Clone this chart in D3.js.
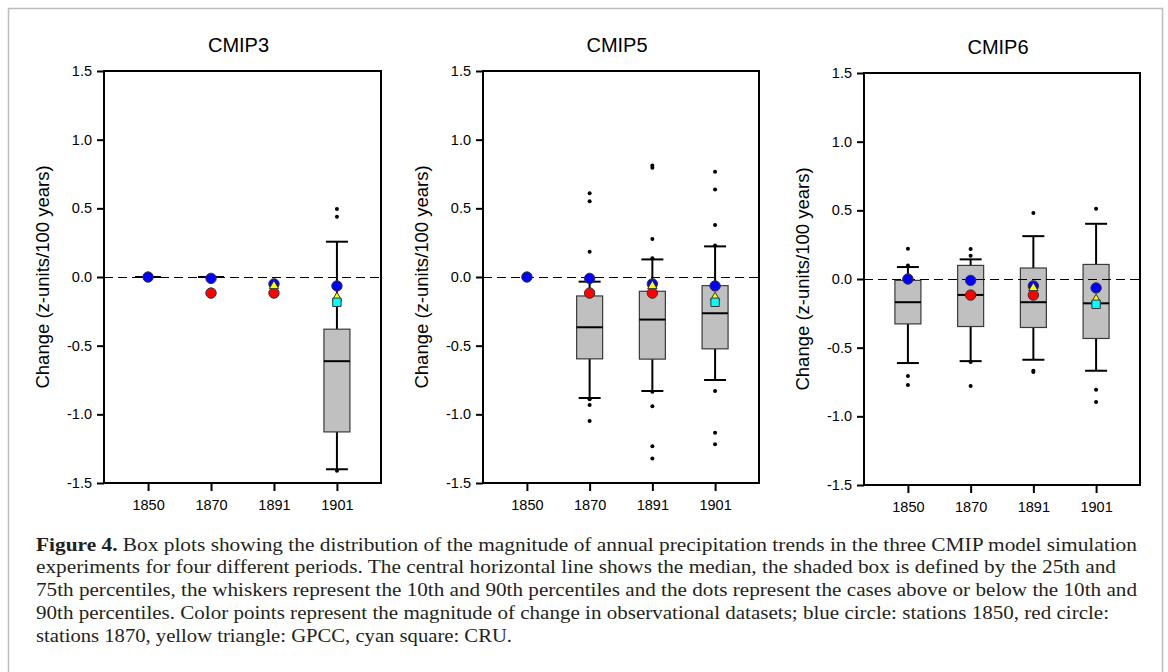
<!DOCTYPE html>
<html>
<head>
<meta charset="utf-8">
<script src="https://cdn.jsdelivr.net/npm/d3@7"></script>
<style>
  body { margin: 0; background: #fff; }
  svg { display: block; }
</style>
</head>
<body>
<svg id="chart" width="1168" height="672"></svg>
<script>
"use strict";

// categories
var years = ["1850", "1870", "1891", "1901"];
var panels = ["CMIP3", "CMIP5", "CMIP6"];
var yTicks = [-1.5, -1.0, -0.5, 0.0, 0.5, 1.0, 1.5];

// box stats per panel, one entry per year (10th, 25th, median, 75th, 90th)
var cmip3_p10 = [0, 0, 0, -1.40];
var cmip3_q1 = [0, 0, 0, -1.128];
var cmip3_med = [0, 0, null, -0.613];
var cmip3_q3 = [0, 0, 0, -0.380];
var cmip3_p90 = [0, 0, 0, 0.257];
var cmip3_out = [[], [], [], [0.496, 0.438, -1.41]];

var cmip5_p10 = [0, -0.881, -0.83, -0.75];
var cmip5_q1 = [0, -0.596, -0.598, -0.523];
var cmip5_med = [null, -0.366, -0.31, -0.264];
var cmip5_q3 = [0, -0.138, -0.104, -0.063];
var cmip5_p90 = [0, -0.034, 0.128, 0.223];
var cmip5_out = [[], [0.61, 0.552, 0.184, -0.89, -0.932, -1.048],
  [0.811, 0.796, 0.276, 0.136, -0.835, -0.942, -1.232, -1.322],
  [0.767, 0.637, 0.378, 0.23, -0.83, -1.135, -1.218]];

var cmip6_p10 = [-0.612, -0.598, -0.588, -0.668];
var cmip6_q1 = [-0.327, -0.346, -0.353, -0.433];
var cmip6_med = [-0.169, -0.116, -0.169, -0.177];
var cmip6_q3 = [-0.01, 0.099, 0.08, 0.106];
var cmip6_p90 = [0.087, 0.143, 0.312, 0.402];
var cmip6_out = [[0.22, 0.099, -0.707, -0.772], [0.218, 0.169, -0.605, -0.779],
  [0.481, -0.668, -0.677], [0.511, -0.806, -0.895]];

// observational datasets
var obs_stations1850 = [0, -0.01, -0.05, -0.065];
var obs_stations1870 = [null, -0.117, -0.117, null];
var obs_gpcc = [null, null, -0.065, -0.15];
var obs_cru = [null, null, null, -0.184];

var captionLines = [
  ["Figure 4.", " Box plots showing the distribution of the magnitude of annual precipitation trends in the three CMIP model simulation"],
  ["", "experiments for four different periods. The central horizontal line shows the median, the shaded box is defined by the 25th and"],
  ["", "75th percentiles, the whiskers represent the 10th and 90th percentiles and the dots represent the cases above or below the 10th and"],
  ["", "90th percentiles. Color points represent the magnitude of change in observational datasets; blue circle: stations 1850, red circle:"],
  ["", "stations 1870, yellow triangle: GPCC, cyan square: CRU."]
];

var BoxChart = function(){
  var that = {},
  svg,
  layout = [
    {left: 104, top: 71, width: 277, height: 412, labelX: 43},
    {left: 483, top: 71, width: 276, height: 412, labelX: 422},
    {left: 864, top: 73, width: 276, height: 412, labelX: 803}
  ],
  captionEnds = [1137, 1116, 1137, 1109, 512];

  function buildBoxes(p10, q1, med, q3, p90, out){
    return years.map(function(year, i){
      return {year: year, p10: p10[i], q1: q1[i], med: med[i], q3: q3[i], p90: p90[i], out: out[i]};
    });
  }

  function buildObs(){
    var obs = [];
    years.forEach(function(year, i){
      if(obs_stations1850[i] != null) obs.push({year: year, v: obs_stations1850[i], type: "circle", color: "#0000ff"});
      if(obs_stations1870[i] != null) obs.push({year: year, v: obs_stations1870[i], type: "circle", color: "#ff0000"});
      if(obs_gpcc[i] != null) obs.push({year: year, v: obs_gpcc[i], type: "triangle", color: "#ffff00"});
      if(obs_cru[i] != null) obs.push({year: year, v: obs_cru[i], type: "square", color: "#00ffff"});
    });
    return obs;
  }

  function init(dom){
    svg = d3.select(dom);

    svg.append("rect")
    .attr("x", 8.5).attr("y", 8.5)
    .attr("width", 1154).attr("height", 700)
    .attr("fill", "none")
    .attr("stroke", "#bdbdbd")
    .attr("stroke-width", 1.5);
  }

  function renderPanel(index, title, boxes, obs){
    var l = layout[index];

    var x = d3.scalePoint().domain(years).range([0, l.width]).padding(0.7);
    var y = d3.scaleLinear().domain([-1.5, 1.5]).range([l.height, 0]);

    var g = svg.append("g")
    .attr("transform", "translate(" + l.left + "," + l.top + ")");

    // title
    g.append("text")
    .attr("x", l.width / 2 - 4)
    .attr("y", -19)
    .attr("text-anchor", "middle")
    .attr("font-family", "Liberation Sans, Arial, sans-serif")
    .attr("font-size", 20)
    .attr("fill", "#000")
    .text(title);

    // y axis label
    svg.append("text")
    .attr("transform", "translate(" + l.labelX + "," + (l.top + y(0)) + ") rotate(-90)")
    .attr("text-anchor", "middle")
    .attr("dy", "0.35em")
    .attr("font-family", "Liberation Sans, Arial, sans-serif")
    .attr("font-size", 18.5)
    .attr("fill", "#000")
    .text("Change (z-units/100 years)");

    // axes
    var fmt = d3.format(".1f");
    var yAxis = g.append("g")
    .call(d3.axisLeft(y).tickValues(yTicks)
      .tickFormat(function(v){ return fmt(v).replace("\u2212", "-"); })
      .tickSizeInner(7).tickSizeOuter(0).tickPadding(5));
    var xAxis = g.append("g")
    .attr("transform", "translate(0," + l.height + ")")
    .call(d3.axisBottom(x).tickSizeInner(8).tickSizeOuter(0).tickPadding(9));

    [yAxis, xAxis].forEach(function(a){
      a.attr("font-size", null).attr("font-family", null);
      a.select(".domain").remove();
      a.selectAll("line").attr("stroke", "#000").attr("stroke-width", 2);
      a.selectAll("text")
      .attr("font-family", "Liberation Sans, Arial, sans-serif")
      .attr("font-size", 14.5)
      .attr("fill", "#000");
    });

    // boxes
    var box_w = 26, cap_w = 22;
    var box_g = g.selectAll(".box_node")
    .data(boxes)
    .enter()
    .append("g")
    .attr("class", "box_node")
    .attr("transform", function(element){ return "translate(" + x(element.year) + ",0)"; });

    box_g.append("line")
    .attr("x1", 0).attr("x2", 0)
    .attr("y1", function(element){ return y(element.q3); })
    .attr("y2", function(element){ return y(element.p90); })
    .attr("stroke", "#000").attr("stroke-width", 2);

    box_g.append("line")
    .attr("x1", 0).attr("x2", 0)
    .attr("y1", function(element){ return y(element.q1); })
    .attr("y2", function(element){ return y(element.p10); })
    .attr("stroke", "#000").attr("stroke-width", 2);

    box_g.filter(function(element){ return element.p90 != element.q3; })
    .append("line")
    .attr("x1", -cap_w / 2).attr("x2", cap_w / 2)
    .attr("y1", function(element){ return y(element.p90); })
    .attr("y2", function(element){ return y(element.p90); })
    .attr("stroke", "#000").attr("stroke-width", 2);

    box_g.filter(function(element){ return element.p10 != element.q1; })
    .append("line")
    .attr("x1", -cap_w / 2).attr("x2", cap_w / 2)
    .attr("y1", function(element){ return y(element.p10); })
    .attr("y2", function(element){ return y(element.p10); })
    .attr("stroke", "#000").attr("stroke-width", 2);

    box_g.append("rect")
    .attr("x", -box_w / 2)
    .attr("width", box_w)
    .attr("y", function(element){ return y(element.q3); })
    .attr("height", function(element){ return y(element.q1) - y(element.q3); })
    .attr("fill", "#c0c0c0")
    .attr("stroke", "#3a3a3a")
    .attr("stroke-width", 1.2);

    box_g.filter(function(element){ return element.med != null; })
    .append("line")
    .attr("x1", -box_w / 2).attr("x2", box_w / 2)
    .attr("y1", function(element){ return y(element.med); })
    .attr("y2", function(element){ return y(element.med); })
    .attr("stroke", "#000").attr("stroke-width", 2);

    box_g.selectAll(".outlier")
    .data(function(element){ return element.out; })
    .enter()
    .append("circle")
    .attr("class", "outlier")
    .attr("cx", 0)
    .attr("cy", function(v){ return y(v); })
    .attr("r", 2)
    .attr("fill", "#000");

    // zero reference line
    g.append("line")
    .attr("x1", 0).attr("x2", l.width)
    .attr("y1", y(0) + 0.5).attr("y2", y(0) + 0.5)
    .attr("stroke", "#000")
    .attr("stroke-width", 1.2)
    .attr("shape-rendering", "crispEdges")
    .attr("stroke-dasharray", "9,5");

    // observations
    g.selectAll(".obs_node")
    .data(obs)
    .enter()
    .append("path")
    .attr("class", "obs_node")
    .attr("transform", function(element){ return "translate(" + x(element.year) + "," + y(element.v) + ")"; })
    .attr("d", function(element){
      if(element.type == "circle") return d3.symbol().type(d3.symbolCircle).size(85)();
      if(element.type == "triangle") return d3.symbol().type(d3.symbolTriangle).size(38)();
      return d3.symbol().type(d3.symbolSquare).size(70)();
    })
    .attr("fill", function(element){ return element.color; })
    .attr("stroke", "#333")
    .attr("stroke-width", 1);

    // frame
    g.append("rect")
    .attr("x", 0).attr("y", 0)
    .attr("width", l.width).attr("height", l.height)
    .attr("fill", "none")
    .attr("stroke", "#000")
    .attr("stroke-width", 2);
  }

  function renderCaption(){
    var text_g = svg.append("g");
    captionLines.forEach(function(line, i){
      var t = text_g.append("text")
      .attr("x", 36)
      .attr("y", 550.5 + i * 22.75)
      .attr("font-family", "Liberation Serif, Times New Roman, serif")
      .attr("font-size", 18.5)
      .attr("fill", "#231f20")
      .attr("textLength", captionEnds[i] - 36)
      .attr("lengthAdjust", "spacingAndGlyphs");
      if(line[0] != ""){
        t.append("tspan").attr("font-weight", "bold").text(line[0]);
      }
      t.append("tspan").text(line[1]);
    });
  }

  function render(){
    renderPanel(0, panels[0], buildBoxes(cmip3_p10, cmip3_q1, cmip3_med, cmip3_q3, cmip3_p90, cmip3_out), buildObs());
    renderPanel(1, panels[1], buildBoxes(cmip5_p10, cmip5_q1, cmip5_med, cmip5_q3, cmip5_p90, cmip5_out), buildObs());
    renderPanel(2, panels[2], buildBoxes(cmip6_p10, cmip6_q1, cmip6_med, cmip6_q3, cmip6_p90, cmip6_out), buildObs());
    renderCaption();
  }

  that.init = init;
  that.render = render;
  return that;
};

var chart = BoxChart();
chart.init("#chart");
chart.render();
</script>
</body>
</html>
